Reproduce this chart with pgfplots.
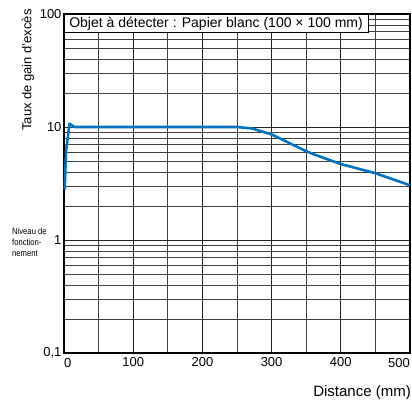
\documentclass[border=0pt]{standalone}
\usepackage{pgfplots}
\pgfplotsset{compat=1.18}
\usetikzlibrary{calc}
\usepackage{fontspec}
\setmainfont{Liberation Sans}
\definecolor{curveblue}{RGB}{0,114,192}
\begin{document}
\begin{tikzpicture}[x=1pt,y=1pt]
\useasboundingbox (-64,-47) rectangle (348,353);
\begin{axis}[
  at={(0,0)}, anchor=south west,
  scale only axis, width=346pt, height=339pt,
  ymode=log, xmin=0, xmax=500, ymin=0.1, ymax=100,
  xtick={0,100,...,500}, xticklabels={,100,200,300,400,},
  minor xtick={50,150,...,450},
  ytick={0.1,1,10,100}, yticklabels={0{,}1,1,10,100},
  grid=both,
  major grid style={black!85, line width=0.7pt},
  minor grid style={black!75, line width=0.6pt},
  major tick length=0pt, minor tick length=0pt,
  axis line style={black, line width=1.2pt},
  tick label style={font=\fontsize{13}{14}\selectfont},
  /pgf/number format/assume math mode=true,
  xticklabel style={anchor=north, yshift=-1pt},
  yticklabel style={anchor=east, xshift=1pt},
  clip=false,
]
\addplot[curveblue, line width=2.6pt, line join=round] coordinates {
 (1,2.8) (3,6.2) (8,10.7) (15,10) (100,10) (200,10) (250,10) (272,9.7)
 (300,8.6) (350,6.1) (362,5.7) (400,4.7) (450,3.9) (500,3.05)
};
\node[draw=black, fill=white, anchor=north west, inner xsep=5pt, inner ysep=2.5pt,
  font=\fontsize{14}{15}\selectfont, line width=0.6pt]
  at (rel axis cs:0,1) {Objet à détecter : Papier blanc (100 × 100 mm)};
\node[anchor=north west, font=\fontsize{13}{14}\selectfont, inner sep=0pt] at ($(rel axis cs:0,0)+(0pt,-5pt)$) {0};
\node[anchor=north east, font=\fontsize{13}{14}\selectfont, inner sep=0pt] at ($(rel axis cs:1,0)+(0pt,-5pt)$) {500};
\end{axis}
\node[rotate=90, font=\fontsize{13}{14}\selectfont] at (-36,283) {Taux de gain d’excès};
\node[anchor=north west, align=left, inner sep=0pt, font=\fontsize{9}{11}\selectfont\addfontfeatures{FakeStretch=0.85}] at (-52,125) {Niveau de\\fonction-\\nement};
\node[anchor=base east, inner sep=0pt, font=\fontsize{15}{16}\selectfont] at (347,-43) {Distance (mm)};
\end{tikzpicture}
\end{document}
